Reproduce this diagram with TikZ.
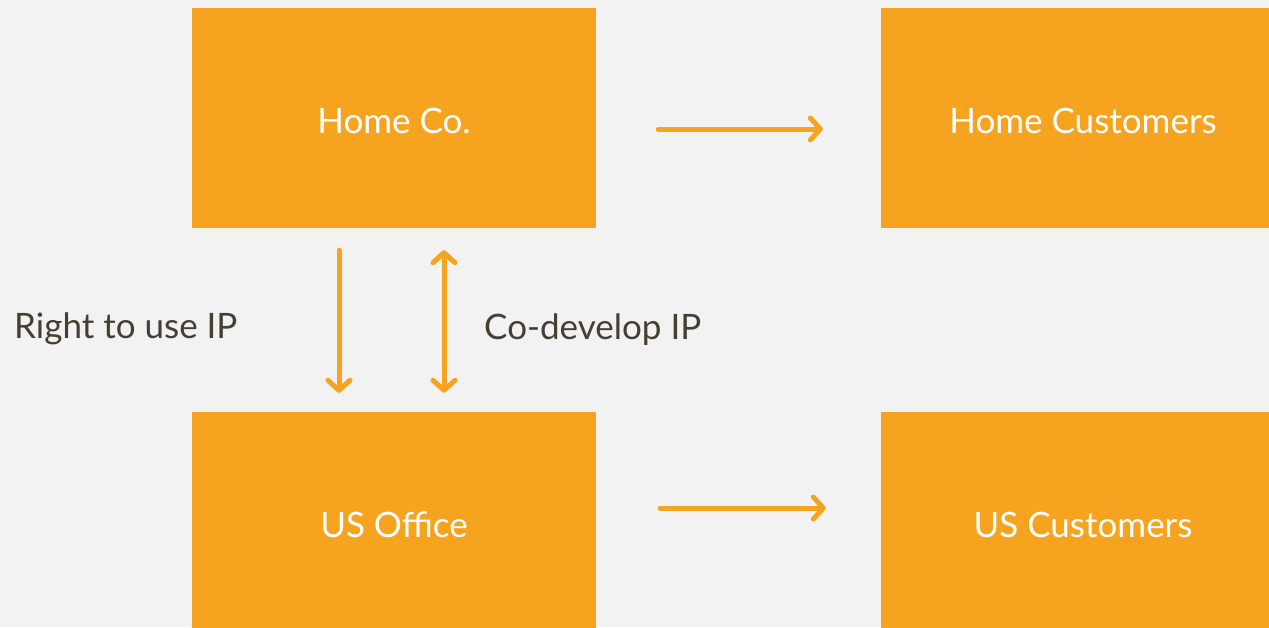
\documentclass[tikz,border=0pt]{standalone}
\usepackage{fontspec}
\setmainfont{Lato}
\usetikzlibrary{arrows.meta,calc}
\definecolor{bg}{HTML}{F2F2F2}
\definecolor{boxor}{HTML}{F6A41F}
\definecolor{txt}{HTML}{463E33}
\tikzset{
  box/.style={fill=boxor, draw=none, minimum width=404pt, minimum height=220pt, inner sep=0pt,
              text height=30pt, text depth=0pt,
              text=white, font=\fontsize{35}{38}\selectfont},
  lbl/.style={text=txt, font=\fontsize{35}{38}\selectfont, inner sep=0pt},
  arr/.style={draw=boxor, line width=5pt, line cap=round,
              -{Straight Barb[length=10pt,width=22pt,round]}},
  darr/.style={draw=boxor, line width=5pt, line cap=round,
              {Straight Barb[length=10pt,width=22pt,round]}-{Straight Barb[length=10pt,width=22pt,round]}}
}
\begin{document}
\begin{tikzpicture}[x=1pt,y=-1pt]
\useasboundingbox (0,0) rectangle (1269,627);
\fill[bg] (0,0) rectangle (1269,627);
\clip (0,0) rectangle (1269,627);
\node[box] (home) at (394,118) {Home Co.};
\node[box] (homec) at (1083,118) {Home Customers};
\node[box] (us) at (394,522) {US Office};
\node[box] (usc) at (1083,522) {US Customers};
\draw[arr] ($(home.east)+(62,11)$) -- ($(homec.west)+(-58,11)$);
\draw[arr] ($(us.east)+(64,-14)$) -- ($(usc.west)+(-55,-14)$);
\draw[arr] ($(home.south)+(-55,22)$) -- ($(us.north)+(-55,-19)$);
\draw[darr] ($(home.south)+(50,22)$) -- ($(us.north)+(50,-19)$);
\node[lbl, anchor=base west] (right) at (14,338) {Right to use IP};
\node[lbl, anchor=base west] (codev) at (484,339) {Co-develop IP};
\end{tikzpicture}
\end{document}
